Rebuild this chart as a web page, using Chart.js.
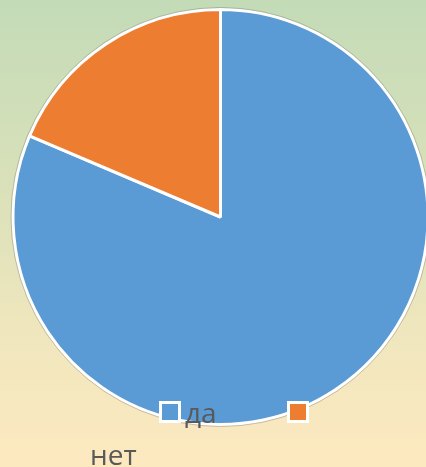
<!DOCTYPE html>
<html>
<head>
<meta charset="utf-8">
<script src="https://cdn.jsdelivr.net/npm/chart.js@4/dist/chart.umd.min.js"></script>
<style>
  html, body { margin: 0; padding: 0; width: 426px; height: 467px; overflow: hidden; }
  #wrap { position: relative; width: 426px; height: 467px; overflow: hidden;
    background: linear-gradient(to bottom, #c3dbb7 0%, #d6e0b9 35%, #efe6bd 70%, #fde9c0 100%); }
  canvas { position: absolute; left: 0; top: 0; }
  .box { position: absolute; width: 22px; height: 22px; box-sizing: border-box; border: 3px solid #fff; }
  .lbl { position: absolute; font-family: "Open Sans", sans-serif; font-size: 28px; line-height: 28px; color: #595959; white-space: nowrap; }
</style>
</head>
<body>
<div id="wrap">
  <canvas id="c" width="440" height="467"></canvas>
</div>
<script>
const categories = ["да", "нет"];
const values = [81.4, 18.6];
const colors = ["#5b9bd5", "#ed7d31"];

const outline = {
  id: 'outline',
  afterDatasetsDraw(chart) {
    const arc = chart.getDatasetMeta(0).data[0];
    if (!arc) return;
    const ctx = chart.ctx;
    ctx.save();
    ctx.beginPath();
    ctx.arc(arc.x, arc.y, arc.outerRadius + 2, 0, Math.PI * 2);
    ctx.strokeStyle = 'rgba(120,120,110,0.4)';
    ctx.lineWidth = 1;
    ctx.stroke();
    ctx.restore();
  }
};

const chart = new Chart(document.getElementById('c'), {
  type: 'pie',
  data: {
    labels: categories,
    datasets: [{
      data: values,
      backgroundColor: colors,
      borderColor: '#ffffff',
      borderWidth: 3
    }]
  },
  options: {
    responsive: false,
    animation: false,
    layout: { padding: { left: 11.5, top: 8, right: 10.5, bottom: 41 } },
    plugins: { legend: { display: false }, tooltip: { enabled: false } }
  },
  plugins: [outline]
});

// HTML legend built from the data arrays
const wrap = document.getElementById('wrap');
const boxPos = [[159, 401], [287, 401]];
const labelPos = [[185, 398], [90, 440]];
categories.forEach((name, i) => {
  const b = document.createElement('div');
  b.className = 'box';
  b.style.left = boxPos[i][0] + 'px';
  b.style.top = boxPos[i][1] + 'px';
  b.style.background = colors[i];
  wrap.appendChild(b);
});
categories.forEach((name, i) => {
  const t = document.createElement('div');
  t.className = 'lbl';
  t.style.left = labelPos[i][0] + 'px';
  t.style.top = labelPos[i][1] + 'px';
  t.textContent = name;
  wrap.appendChild(t);
});
</script>
</body>
</html>
